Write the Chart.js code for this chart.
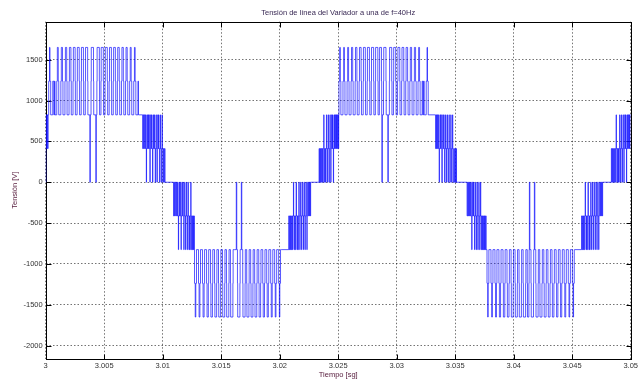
<!DOCTYPE html>
<html>
<head>
<meta charset="utf-8">
<title>Tensión de línea</title>
<script src="https://cdn.jsdelivr.net/npm/chart.js@4.4.1/dist/chart.umd.min.js"></script>
<style>
  html, body { margin: 0; padding: 0; background: #fff; }
  #grafico { display: block; }
</style>
</head>
<body>
<canvas id="grafico" width="641" height="383"></canvas>
<script>
// niveles de tension de linea (V), indice = nivel + 4
const niveles = [-1650, -1237, -825, -412, 0, 412, 825, 1237, 1650];

// ejes
const ticksX = [3, 3.005, 3.01, 3.015, 3.02, 3.025, 3.03, 3.035, 3.04, 3.045, 3.05];
const etiquetasX = ['3', '3.005', '3.01', '3.015', '3.02', '3.025', '3.03', '3.035', '3.04', '3.045', '3.05'];
const ticksY = [-2000, -1500, -1000, -500, 0, 500, 1000, 1500];

// tramos de la forma de onda: [nivel, duracion en microsegundos], desde t = 3 s
const arranque = [[0,15],[1,30],[2,40],[1,30],[2,50],[1,40],[2,50]];

const picoPos1 = [
  [3,70],[4,40],[3,60],[2,180],
  [3,90],[2,60],[3,40],[2,150],
  [3,50],[4,80],[3,40],[2,180],
  [3,40],[4,100],[3,40],[2,170],
  [3,40],[4,110],[3,30],[2,170],
  [3,30],[4,130],[3,30],[2,150],
  [3,30],[4,150],[3,20],[2,150],
  [3,20],[4,160],[3,30],[2,140],
  [3,20],[4,170],[3,20],[2,140],
  [3,20],[4,180],[3,20],[2,130],
  [2,40],[0,40],[2,60],
  [3,20],[4,190],[3,20],[2,110],
  [2,70],[0,40],[2,50],
  [3,20],[4,190],[3,20],[2,120],
  [3,20],[4,180],[3,20],[2,130],
  [3,20],[4,170],[3,30],[2,130],
  [3,30],[4,160],[3,20],[2,140],
  [3,30],[4,150],[3,30],[2,140],
  [3,30],[4,130],[3,40],[2,150],
  [3,40],[4,120],[3,40],[2,150],
  [3,40],[4,100],[3,50],[2,160],
  [3,50],[4,80],[3,50],[2,170],
  [3,60],[4,60],[3,60],[2,180],
  [3,45],[2,360]
];

const bajadaPos1 = [
  [1,40],[2,50],[1,40],[2,50],[1,50],[2,40],[1,40],[0,20],[1,30],[2,40],
  [1,50],[2,40],[1,40],[2,40],[1,50],[0,20],[1,40],[2,30],[1,50],[2,40],
  [1,40],[0,30],[1,40],[2,30],[1,50],[2,30],[1,50],[0,30],[1,40],[2,30],
  [1,50],[0,30],[1,40],[2,20],[1,50],[2,30],[1,40],[0,40],[1,40],[2,20],
  [1,50],[0,40],[1,40],[2,20],[1,40],[0,50],[1,40],[0,60],[1,40],[0,50],
  [0,680]
];

const subidaNeg1 = [
  [-1,40],[0,50],[-1,40],[0,60],[-1,40],[0,50],[-1,50],[0,40],[-1,40],[-2,20],
  [-1,40],[0,40],[-1,50],[0,40],[-1,40],[-2,20],[-1,50],[0,30],[-1,50],[0,40],
  [-1,40],[-2,30],[-1,40],[0,30],[-1,50],[-2,30],[-1,40],[0,30],[-1,50],[-2,30],
  [-1,40],[0,20],[-1,50],[-2,40],[-1,40],[-2,40],[-1,40],[0,20],[-1,40],[-2,50],
  [-1,40],[-2,50],[-1,40],[-2,40],[-1,20],[-2,20]
];

const picoNeg1 = [
  [-3,60],[-4,50],[-3,60],[-2,170],
  [-3,50],[-4,70],[-3,50],[-2,170],
  [-3,50],[-4,90],[-3,40],[-2,170],
  [-3,40],[-4,110],[-3,30],[-2,160],
  [-3,30],[-4,130],[-3,30],[-2,150],
  [-3,30],[-4,150],[-3,20],[-2,140],
  [-3,20],[-4,160],[-3,20],[-2,140],
  [-3,20],[-4,170],[-3,20],[-2,130],
  [-3,20],[-4,180],[-3,20],[-2,120],
  [-3,20],[-4,190],[-3,20],[-2,120],
  [-2,150],[0,40],[-2,60],
  [-3,20],[-4,190],[-3,20],[-2,100],
  [0,40],[-2,80],
  [-3,20],[-4,180],[-3,20],[-2,120],
  [-3,20],[-4,170],[-3,20],[-2,130],
  [-3,30],[-4,160],[-3,20],[-2,130],
  [-3,30],[-4,150],[-3,30],[-2,140],
  [-3,30],[-4,130],[-3,30],[-2,150],
  [-3,40],[-4,110],[-3,40],[-2,150],
  [-3,40],[-4,100],[-3,40],[-2,160],
  [-3,50],[-4,80],[-3,50],[-2,160],
  [-3,50],[-4,60],[-3,60],[-2,170],
  [-3,60],[-4,40],[-3,60],[-2,60],
  [-2,645]
];

const bajadaNeg1 = [
  [-1,40],[-2,50],[-1,40],[-2,40],[-1,50],[-2,50],[-1,40],[-2,40],[-1,50],[0,20],
  [-1,40],[-2,40],[-1,50],[-2,40],[-1,40],[0,30],[-1,40],[-2,40],[-1,50],[-2,30],
  [-1,40],[0,30],[-1,50],[-2,30],[-1,40],[0,30],[-1,50],[-2,30],[-1,40],[0,40],
  [-1,50],[-2,20],[-1,40],[0,40],[-1,40],[-2,20],[-1,50],[0,50],[-1,40],[-2,20],
  [-1,40],[0,50],[-1,40],[0,60],[-1,30],[0,50],[-1,30],[0,39],
  [0,681]
];

const subidaPos2 = [
  [1,40],[0,50],[1,40],[0,50],[1,50],[0,40],[1,40],[0,50],[1,40],[2,20],
  [1,40],[0,40],[1,50],[0,40],[1,40],[2,30],[1,40],[0,30],[1,50],[2,30],
  [1,40],[0,30],[1,50],[2,30],[1,40],[0,20],[1,50],[2,40],[1,40],[2,30],
  [1,40],[0,20],[1,40],[2,40],[1,40],[2,50],[1,40],[2,40],[1,30],[2,50],
  [1,40],[2,50],[1,20],[2,23]
];

const picoPos2 = [
  [3,60],[4,50],[3,50],[2,180],
  [3,60],[4,60],[3,50],[2,180],
  [3,50],[4,80],[3,40],[2,170],
  [3,40],[4,100],[3,40],[2,170],
  [3,30],[4,120],[3,30],[2,160],
  [3,30],[4,140],[3,30],[2,150],
  [3,20],[4,160],[3,20],[2,140],
  [3,20],[4,170],[3,30],[2,130],
  [3,20],[4,180],[3,20],[2,130],
  [3,20],[4,190],[3,20],[2,110],
  [3,20],[4,160],[3,20],[2,15],[0,40],[2,100],
  [3,20],[4,190],[3,20],[2,120],
  [2,20],[0,40],[2,90],
  [3,20],[4,180],[3,20],[2,130],
  [3,20],[4,170],[3,30],[2,130],
  [3,30],[4,160],[3,20],[2,140],
  [3,30],[4,150],[3,30],[2,140],
  [3,30],[4,130],[3,40],[2,150],
  [3,40],[4,110],[3,40],[2,160],
  [3,40],[4,100],[3,50],[2,160],
  [3,50],[4,80],[3,50],[2,170],
  [3,60],[2,60],[3,60],[2,170],
  [3,70],[4,40],[3,60],[2,85],
  [2,545]
];

const bajadaPos2 = [
  [1,50],[2,40],[1,40],[2,50],[1,40],[2,40],[1,50],[0,20],[1,40],[2,40],
  [1,40],[2,50],[1,40],[0,30],[1,40],[2,40],[1,50],[2,30],[1,40],[0,30],
  [1,50],[2,30],[1,40],[0,30],[1,40],[2,30],[1,50],[0,40],[1,40],[2,20],
  [1,50],[0,40],[1,40],[2,20],[1,40],[0,50],[1,40],[2,20],[1,40],[0,60],
  [1,40],[0,60],[1,30],[0,60],[1,30],[0,50],
  [0,852]
];

const subidaNeg2 = [
  [-1,50],[0,40],[-1,40],[0,60],[-1,40],[0,40],[-1,50],[0,40],[-1,40],[-2,20],
  [-1,40],[0,50],[-1,40],[0,40],[-1,50],[-2,20],[-1,40],[0,30],[-1,50],[-2,30],
  [-1,40],[0,30],[-1,40],[-2,30],[-1,50],[0,30],[-1,40],[-2,40],[-1,40],[0,20],
  [-1,50],[-2,40],[-1,40],[-2,40],[-1,40],[-2,50],[-1,40],[-2,40],[-1,30],[-2,50],
  [-1,40],[-2,73]
];

const picoNeg2 = [
  [-3,60],[-4,40],[-3,60],[-2,180],
  [-3,60],[-4,60],[-3,50],[-2,170],
  [-3,50],[-4,80],[-3,40],[-2,170],
  [-3,40],[-4,100],[-3,40],[-2,170],
  [-3,30],[-4,120],[-3,30],[-2,160],
  [-3,30],[-4,140],[-3,30],[-2,150],
  [-3,20],[-4,160],[-3,20],[-2,140],
  [-3,20],[-4,170],[-3,20],[-2,130],
  [-3,20],[-4,180],[-3,20],[-2,130],
  [-3,20],[-4,190],[-3,20],[-2,120],
  [-3,20],[-4,120],[-3,20],[-2,22],[0,40],[-2,100],
  [-3,20],[-4,190],[-3,20],[-2,56],[0,40],[-2,80],
  [-3,20],[-4,180],[-3,20],[-2,120],
  [-3,20],[-4,170],[-3,30],[-2,130],
  [-3,30],[-4,160],[-3,20],[-2,140],
  [-3,30],[-4,150],[-3,30],[-2,140],
  [-3,30],[-4,130],[-3,40],[-2,150],
  [-3,40],[-4,110],[-3,40],[-2,150],
  [-3,40],[-4,100],[-3,50],[-2,160],
  [-3,50],[-4,80],[-3,50],[-2,170],
  [-3,60],[-4,60],[-3,60],[-2,170],
  [-3,60],[-4,40],[-3,60],[-2,37],
  [-2,589]
];

const bajadaNeg2 = [
  [-1,40],[-2,50],[-1,50],[-2,40],[-1,40],[-2,50],[-1,40],[0,20],[-1,50],[-2,40],
  [-1,40],[-2,40],[-1,50],[0,30],[-1,40],[-2,40],[-1,40],[-2,30],[-1,50],[0,30],
  [-1,40],[-2,30],[-1,50],[0,30],[-1,40],[-2,30],[-1,50],[0,40],[-1,40],[-2,20],
  [-1,50],[0,40],[-1,40],[-2,20],[-1,40],[0,50],[-1,40],[-2,20],[-1,40],[0,60],
  [-1,40],[0,60],[-1,30],[0,60],[-1,30],[0,65],
  [0,681]
];

const subidaPos3 = [
  [1,40],[0,50],[1,40],[0,60],[1,40],[0,50],[1,50],[0,40],[1,40],[2,20],
  [1,40],[0,40],[1,50],[0,40],[1,40],[0,30],[1,40],[2,20],[1,50],[0,30],
  [1,40],[2,30],[1,40],[0,30],[1,50],[2,30],[1,40],[0,20],[1,50],[2,40],
  [1,40],[2,30],[1,40],[0,20],[1,40],[2,40],[1,40],[2,50],[1,40],[2,40],
  [1,30],[2,62]
];

const tramos = [arranque, picoPos1, bajadaPos1, subidaNeg1, picoNeg1, bajadaNeg1,
  subidaPos2, picoPos2, bajadaPos2, subidaNeg2, picoNeg2, bajadaNeg2, subidaPos3];

// armar los puntos (tiempo en s, tension en V)
const puntos = [];
let tus = 0;
tramos.forEach(tramo => {
  tramo.forEach(([nivel, dur]) => {
    puntos.push({ x: 3 + tus / 1e6, y: niveles[nivel + 4] });
    tus += dur;
  });
});
puntos.push({ x: 3 + tus / 1e6, y: puntos[puntos.length - 1].y });

const fuente = { family: '"Liberation Sans", Arial, sans-serif', size: 7.5 };

// marco negro y marcas hacia adentro (estilo MATLAB)
const marco = {
  id: 'marco',
  beforeDatasetsDraw(chart) {
    const { ctx, chartArea: a, scales: { x, y } } = chart;
    const l = Math.round(a.left) + 0.5, r = Math.round(a.right) + 0.5;
    const t = Math.round(a.top) + 0.5, b = Math.round(a.bottom) + 0.5;
    ctx.save();
    ctx.strokeStyle = '#000';
    ctx.lineWidth = 1;
    ctx.beginPath();
    ticksX.forEach(v => {
      const px = Math.round(x.getPixelForValue(v)) + 0.5;
      ctx.moveTo(px, b); ctx.lineTo(px, b - 5);
      ctx.moveTo(px, t); ctx.lineTo(px, t + 5);
    });
    ticksY.forEach(v => {
      const py = Math.round(y.getPixelForValue(v)) + 0.5;
      ctx.moveTo(l, py); ctx.lineTo(l + 5, py);
      ctx.moveTo(r, py); ctx.lineTo(r - 5, py);
    });
    ctx.stroke();
    ctx.strokeRect(l, t, r - l, b - t);
    ctx.restore();
  }
};

new Chart(document.getElementById('grafico'), {
  type: 'line',
  data: {
    datasets: [{
      data: puntos,
      borderColor: '#1010ff',
      borderWidth: 0.7,
      pointRadius: 0,
      stepped: true,
      fill: false
    }]
  },
  options: {
    responsive: false,
    animation: false,
    events: [],
    layout: { padding: { left: 0, right: 8, top: 0, bottom: 0 } },
    plugins: {
      legend: { display: false },
      tooltip: { enabled: false },
      title: {
        display: true,
        fullSize: false,
        text: 'Tensión de línea del Variador a una de f=40Hz',
        color: '#3a2a55',
        font: { ...fuente, weight: 'normal' },
        padding: { top: 8, bottom: 4.7 }
      }
    },
    scales: {
      x: {
        type: 'linear',
        min: 3,
        max: 3.05,
        afterBuildTicks: s => { s.ticks = ticksX.map(v => ({ value: v })); },
        afterFit: s => { s.height = 24.3; },
        ticks: {
          callback: (v, i) => etiquetasX[i],
          autoSkip: false,
          maxRotation: 0,
          padding: 3,
          color: '#333',
          font: fuente
        },
        grid: { color: 'rgba(0,0,0,0.55)', drawTicks: false },
        border: { display: false, dash: [1.5, 2] },
        title: {
          display: true,
          text: 'Tiempo [sg]',
          color: '#5a2040',
          font: fuente,
          padding: { top: 0, bottom: 3.5 }
        }
      },
      y: {
        min: -2160,
        max: 1965,
        afterBuildTicks: s => { s.ticks = ticksY.map(v => ({ value: v })); },
        afterFit: s => { s.width = 45.7; },
        ticks: {
          callback: v => String(v),
          padding: 3,
          color: '#333',
          font: fuente
        },
        grid: { color: 'rgba(0,0,0,0.55)', drawTicks: false },
        border: { display: false, dash: [1.5, 2] },
        title: {
          display: true,
          text: 'Tensión [V]',
          color: '#5a2040',
          font: fuente,
          padding: { top: 10.5, bottom: 0 }
        }
      }
    }
  },
  plugins: [marco]
});
</script>
</body>
</html>
